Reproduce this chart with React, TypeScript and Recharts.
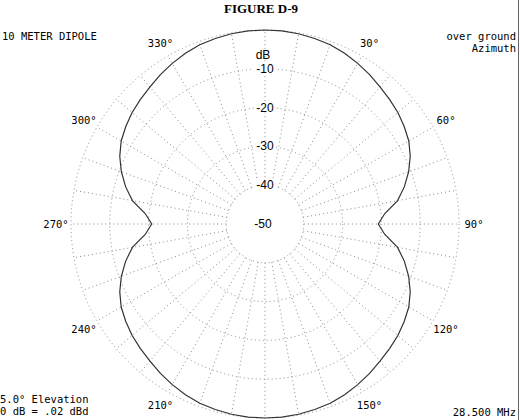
import React from 'react';
import { RadarChart, Radar, PolarGrid, PolarAngleAxis, PolarRadiusAxis } from 'recharts';

// azimuth (deg, clockwise from top) and field strength (dB)
const azimuths = [
  0, 5, 10, 15, 20, 25, 30, 35, 40, 45, 50, 55, 60, 65, 70, 75, 80, 85,
  90, 95, 100, 105, 110, 115, 120, 125, 130, 135, 140, 145, 150, 155, 160, 165, 170, 175,
  180, 185, 190, 195, 200, 205, 210, 215, 220, 225, 230, 235, 240, 245, 250, 255, 260, 265,
  270, 275, 280, 285, 290, 295, 300, 305, 310, 315, 320, 325, 330, 335, 340, 345, 350, 355,
];
const gainDb = [
  0, -0.05, -0.2, -0.5, -0.85, -1.45, -2.2, -3.0, -3.9, -4.6, -5.3, -6.2, -7.2, -8.7, -10.6, -12.8, -15.3, -19.0,
  -20.8, -19.0, -15.3, -12.8, -10.6, -8.7, -7.2, -6.2, -5.3, -4.6, -3.9, -3.0, -2.2, -1.45, -0.85, -0.5, -0.2, -0.05,
  0, -0.05, -0.2, -0.5, -0.85, -1.45, -2.2, -3.0, -3.9, -4.6, -5.3, -6.2, -7.2, -8.7, -10.6, -12.8, -15.3, -19.0,
  -20.8, -19.0, -15.3, -12.8, -10.6, -8.7, -7.2, -6.2, -5.3, -4.6, -3.9, -3.0, -2.2, -1.45, -0.85, -0.5, -0.2, -0.05,
];

// grid spokes every 10 deg, labels every 30 deg
const spokeAzimuths = [
  0, 10, 20, 30, 40, 50, 60, 70, 80, 90, 100, 110, 120, 130, 140, 150, 160, 170,
  180, 190, 200, 210, 220, 230, 240, 250, 260, 270, 280, 290, 300, 310, 320, 330, 340, 350,
];
const labelAzimuths = [30, 60, 90, 120, 150, 210, 240, 270, 300, 330];
const ringTicks = [-40, -30, -20, -10, 0];

const data = azimuths.map((az, i) => ({ az, gain: gainDb[i] }));

const CX = 265;
const CY = 224;
const INNER_R = 38.8;
const OUTER_R = 194;
const LABEL_R = 209;

const MONO = '"DejaVu Sans Mono", "Liberation Mono", monospace';
const SANS = '"Liberation Sans", Arial, sans-serif';

const AngleTick = (props: any) => {
  const { x, y, payload } = props;
  const az = payload.value;
  if (!labelAzimuths.includes(az)) return <g />;
  const dx = x - CX;
  const dy = y - CY;
  const len = Math.sqrt(dx * dx + dy * dy) || 1;
  const lx = CX + (dx / len) * LABEL_R;
  const ly = CY + (dy / len) * LABEL_R;
  return (
    <text x={lx} y={ly} textAnchor="middle" dominantBaseline="central" fontFamily={MONO} fontSize={10.5} fill="#000">
      {`${az}°`}
    </text>
  );
};

const RadiusTick = (props: any) => {
  const { x, y, payload } = props;
  const v = payload.value;
  if (v === 0) return <g />;
  return (
    <g>
      <rect x={x - 11} y={y - 5} width={22} height={10} fill="#fff" />
      <text x={x} y={y} textAnchor="middle" dominantBaseline="central" fontFamily={SANS} fontSize={12} fill="#000">
        {v}
      </text>
      {v === -10 && (
        <text x={x - 2} y={y - 14} textAnchor="middle" dominantBaseline="central" fontFamily={SANS} fontSize={12} fill="#000">
          dB
        </text>
      )}
      {v === -40 && (
        <>
          <rect x={x - 12} y={CY - 6} width={22} height={12} fill="#fff" />
          <text x={x - 2} y={CY} textAnchor="middle" dominantBaseline="central" fontFamily={SANS} fontSize={12} fill="#000">
            -50
          </text>
        </>
      )}
    </g>
  );
};

export default function App() {
  return (
    <div style={{ position: 'absolute', left: 0, top: 0, width: 520, height: 420, background: '#fff', overflow: 'hidden' }}>
      <RadarChart
        width={520}
        height={420}
        data={data}
        cx={CX}
        cy={CY}
        innerRadius={INNER_R}
        outerRadius={OUTER_R}
        margin={{ top: 0, right: 0, bottom: 0, left: 0 }}
      >
        <PolarGrid
          gridType="circle"
          polarAngles={spokeAzimuths.map(a => 90 - a)}
          stroke="#8a8a8a"
          strokeDasharray="1 3"
        />
        <PolarAngleAxis dataKey="az" tick={<AngleTick />} tickLine={false} axisLine={false} />
        <PolarRadiusAxis
          angle={90}
          type="number"
          domain={[-40, 0]}
          ticks={ringTicks}
          axisLine={false}
          tickLine={false}
          tick={<RadiusTick />}
        />
        <Radar dataKey="gain" stroke="#333" strokeWidth={1.2} fill="none" fillOpacity={0} dot={false} isAnimationActive={false} />
      </RadarChart>

      <div style={{ position: 'absolute', left: 518, top: 0, width: 1, height: 420, background: '#666' }} />

      <svg width={520} height={420} style={{ position: 'absolute', left: 0, top: 0, pointerEvents: 'none' }}>
        <text x={261} y={13} textAnchor="middle" fontFamily='"Liberation Serif", "Times New Roman", serif' fontWeight="bold" fontSize={13} fill="#000">
          FIGURE D-9
        </text>
        <text x={2} y={40} fontFamily={MONO} fontSize={10.5} fill="#000">10 METER DIPOLE</text>
        <text x={516} y={40} textAnchor="end" fontFamily={MONO} fontSize={10.5} fill="#000">over ground</text>
        <text x={516} y={52} textAnchor="end" fontFamily={MONO} fontSize={10.5} fill="#000">Azimuth</text>
        <text x={0} y={403} fontFamily={MONO} fontSize={10.5} fill="#000">5.0° Elevation</text>
        <text x={0} y={415} fontFamily={MONO} fontSize={10.5} fill="#000">0 dB = .02 dBd</text>
        <text x={516} y={416} textAnchor="end" fontFamily={MONO} fontSize={10.5} fill="#000">28.500 MHz</text>
      </svg>
    </div>
  );
}
